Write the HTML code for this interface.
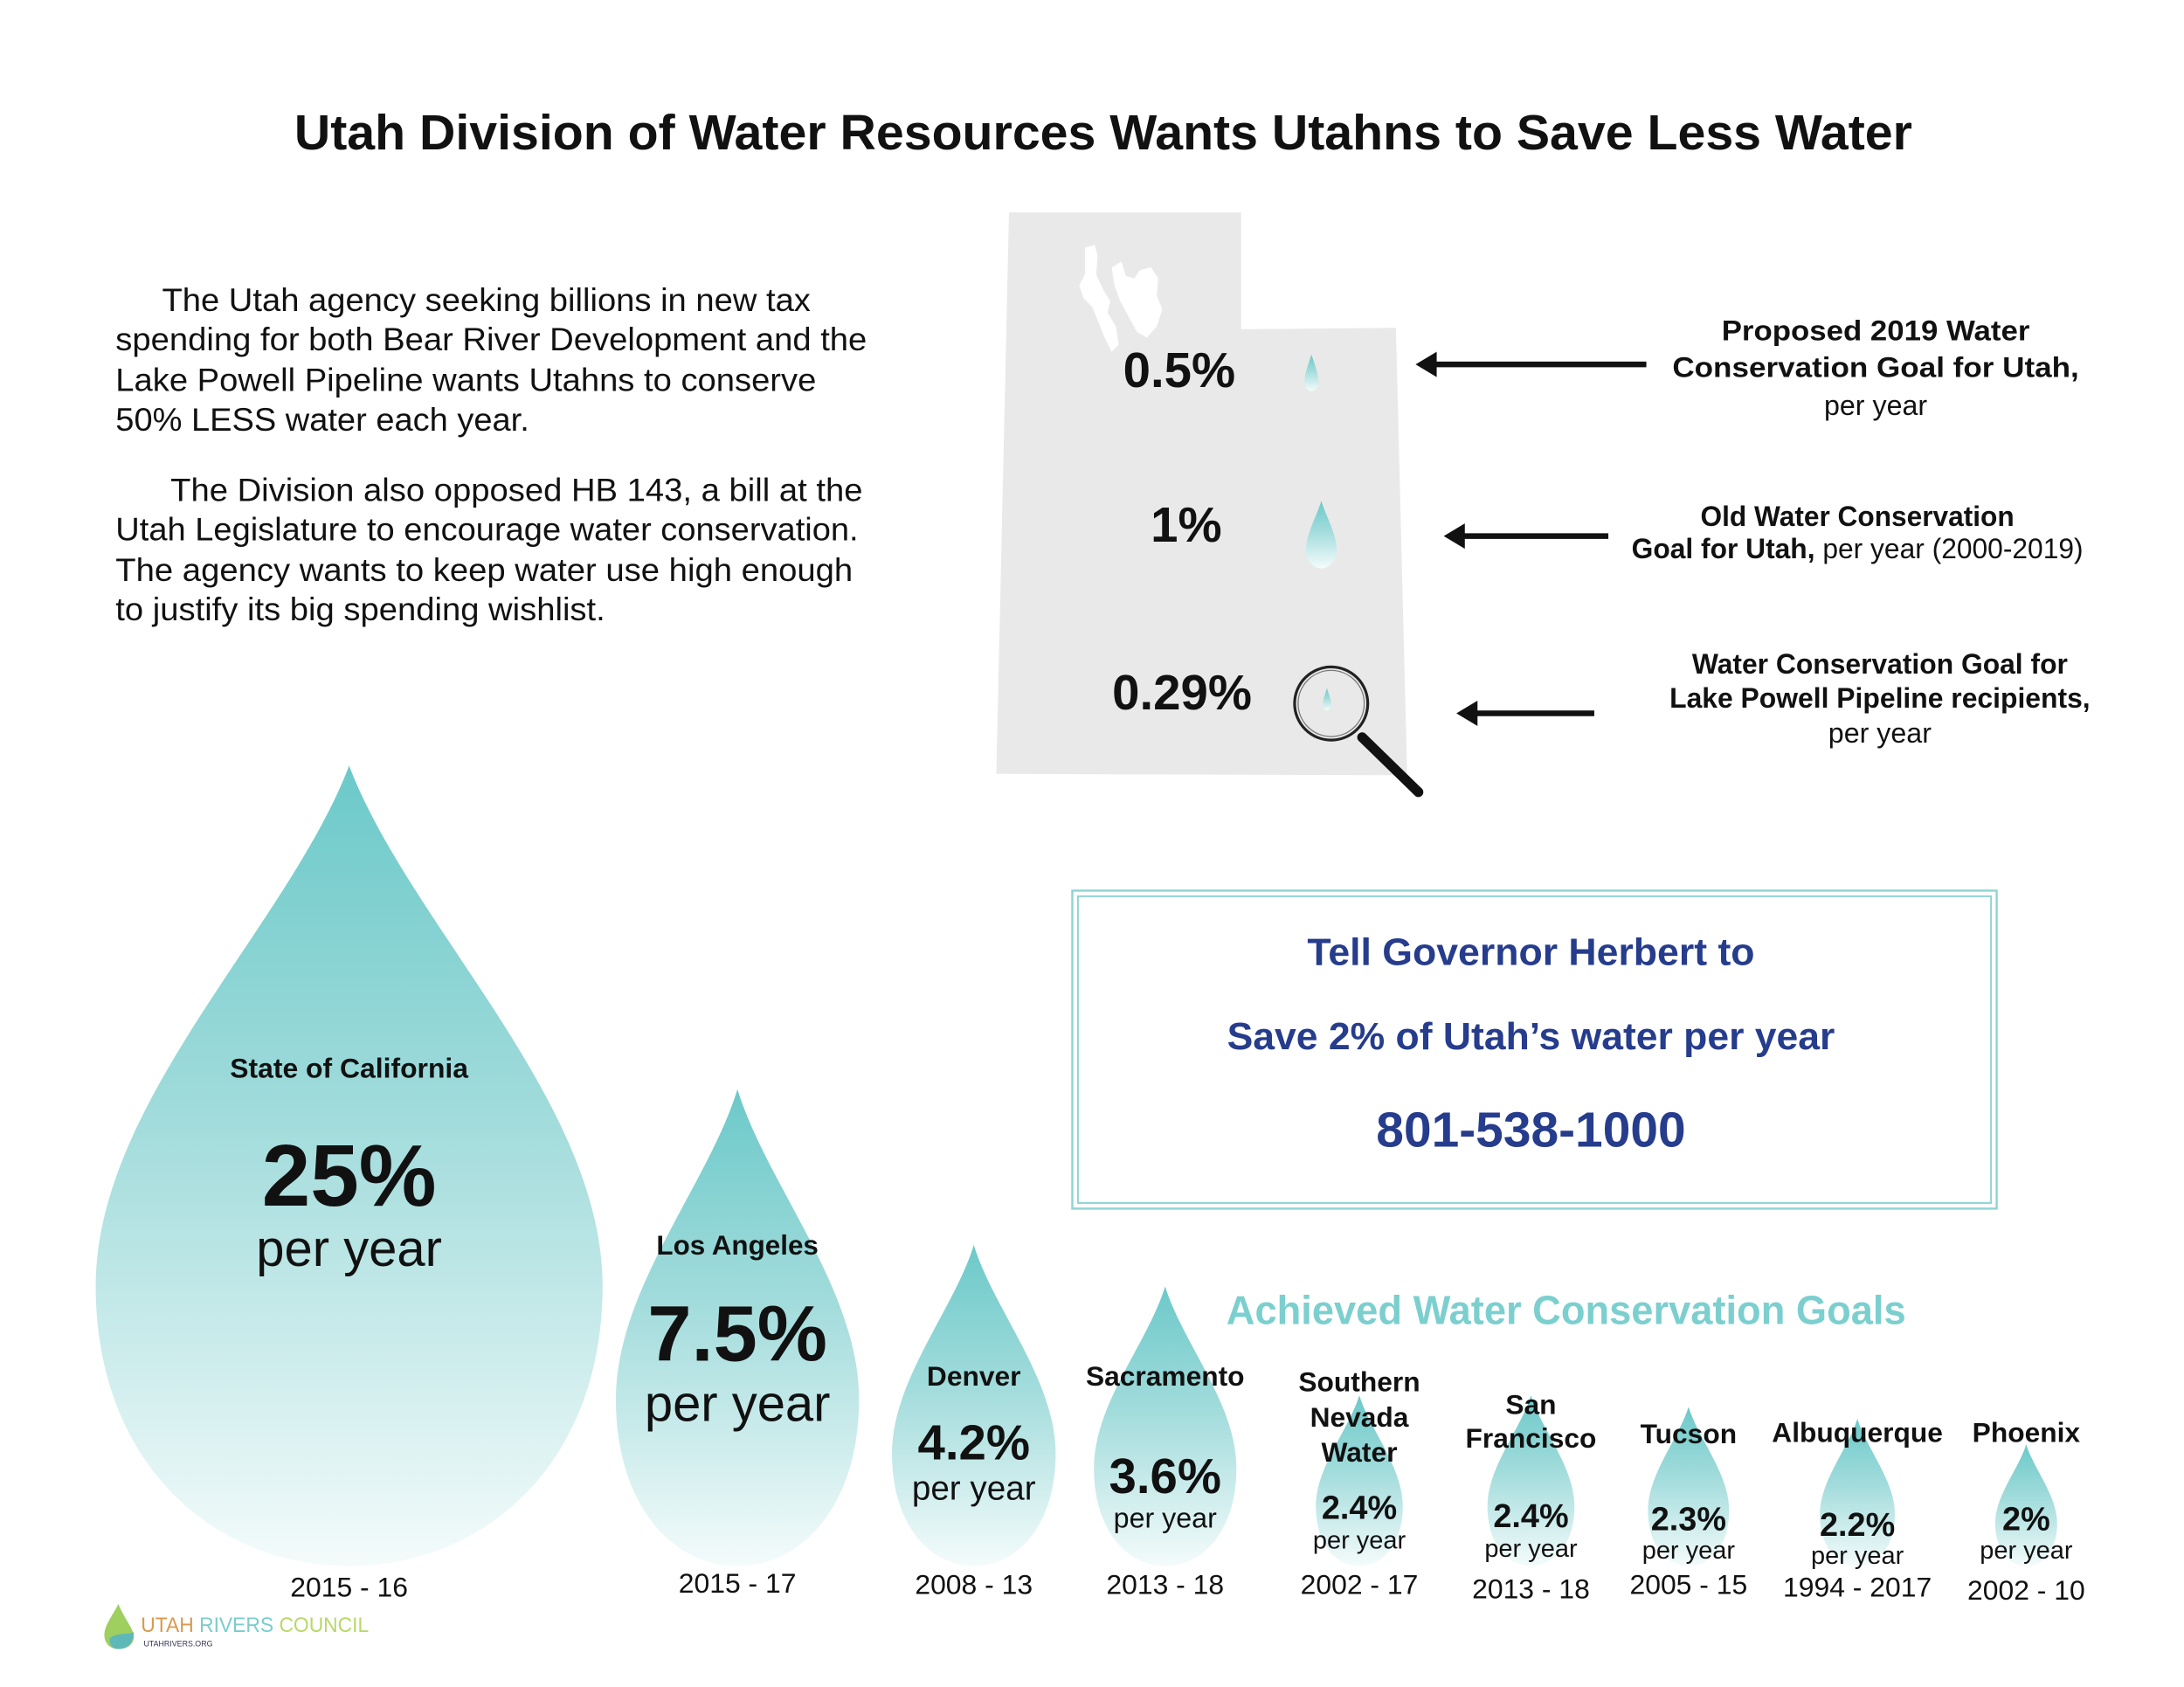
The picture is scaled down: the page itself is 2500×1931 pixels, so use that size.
<!DOCTYPE html>
<html><head><meta charset="utf-8">
<style>
html,body{margin:0;padding:0;background:#fff;}
svg{display:block;font-family:"Liberation Sans",Arial,sans-serif;}
</style></head>
<body>
<svg id="chart" width="2500" height="1931" viewBox="0 0 1552 1199" xmlns="http://www.w3.org/2000/svg">
<defs>
<linearGradient id="dropGrad" x1="0" y1="0" x2="0" y2="1">
<stop offset="0" stop-color="#6cc9c9"/>
<stop offset="0.45" stop-color="#a3dcdc"/>
<stop offset="1" stop-color="#f4fbfb"/>
</linearGradient>
</defs>
<text x="784" y="94" text-anchor="middle" dominant-baseline="central" font-size="35" font-weight="bold" fill="#111" textLength="1150" lengthAdjust="spacingAndGlyphs">Utah Division of Water Resources Wants Utahns to Save Less Water</text>

<g font-size="23" fill="#111" lengthAdjust="spacingAndGlyphs">
<text x="115" y="221" textLength="461" lengthAdjust="spacingAndGlyphs">The Utah agency seeking billions in new tax</text>
<text x="82" y="249" textLength="534" lengthAdjust="spacingAndGlyphs">spending for both Bear River Development and the</text>
<text x="82" y="278" textLength="498" lengthAdjust="spacingAndGlyphs">Lake Powell Pipeline wants Utahns to conserve</text>
<text x="82" y="306" textLength="294" lengthAdjust="spacingAndGlyphs">50% LESS water each year.</text>
<text x="121" y="356" textLength="492" lengthAdjust="spacingAndGlyphs">The Division also opposed HB 143, a bill at the</text>
<text x="82" y="384" textLength="528" lengthAdjust="spacingAndGlyphs">Utah Legislature to encourage water conservation.</text>
<text x="82" y="413" textLength="524" lengthAdjust="spacingAndGlyphs">The agency wants to keep water use high enough</text>
<text x="82" y="441" textLength="348" lengthAdjust="spacingAndGlyphs">to justify its big spending wishlist.</text>
</g>

<g>
<polygon points="717,151 882,151 882,234 992,233 1000,551 708,550" fill="#e9e9e9"/>
<path d="M771,176 L778,174 L780,182 L779,195 L784,206 L789,214 L787,222 L793,232 L795,245 L790,250 L785,240 L781,230 L776,218 L770,212 L767,203 L771,195 Z M790,190 L797,186 L800,196 L806,198 L810,192 L818,190 L823,198 L822,210 L826,220 L822,232 L815,240 L808,236 L802,225 L796,214 L792,203 Z" fill="#fff"/>
</g>
<g font-weight="bold" font-size="35" fill="#111" text-anchor="middle" dominant-baseline="central">
<text x="838" y="263">0.5%</text>
<text x="843" y="373">1%</text>
<text x="840" y="492">0.29%</text>
</g>
<path d="M932,252 C934,258 937,266 937,271 C937,276 934,278 932,278 C930,278 927,276 927,271 C927,266 930,258 932,252Z" fill="url(#dropGrad)"/>
<path d="M939,356 C942,366 950,380 950,391 C950,399 944,404 939,404 C934,404 928,399 928,391 C928,380 936,366 939,356Z" fill="url(#dropGrad)"/>
<g>
<line x1="968" y1="524" x2="1008" y2="563" stroke="#111" stroke-width="7" stroke-linecap="round"/>
<circle cx="946" cy="500" r="26" fill="none" stroke="#222" stroke-width="2"/>
<circle cx="946" cy="500" r="23.5" fill="none" stroke="#777" stroke-width="0.8"/>
<path d="M943,489 C944,493 946,497 946,500 C946,504 944,505 943,505 C942,505 940,504 940,500 C940,497 942,493 943,489Z" fill="url(#dropGrad)"/>
</g>
<g fill="#111" stroke="#111">
<line x1="1170" y1="259" x2="1018" y2="259" stroke-width="4"/>
<polygon points="1006,259 1021,250 1021,268" stroke="none"/>
<line x1="1143" y1="381" x2="1038" y2="381" stroke-width="4"/>
<polygon points="1026,381 1041,372 1041,390" stroke="none"/>
<line x1="1133" y1="507" x2="1047" y2="507" stroke-width="4"/>
<polygon points="1035,507 1050,498 1050,516" stroke="none"/>
</g>
<g font-size="20" fill="#111" text-anchor="middle" dominant-baseline="central">
<text x="1333" y="235" font-weight="bold" textLength="219" lengthAdjust="spacingAndGlyphs">Proposed 2019 Water</text>
<text x="1333" y="261" font-weight="bold" textLength="289" lengthAdjust="spacingAndGlyphs">Conservation Goal for Utah,</text>
<text x="1333" y="288">per year</text>
<text x="1320" y="367" font-weight="bold" textLength="223" lengthAdjust="spacingAndGlyphs">Old Water Conservation</text>
<text x="1320" y="390" textLength="321" lengthAdjust="spacingAndGlyphs"><tspan font-weight="bold">Goal for Utah,</tspan> per year (2000-2019)</text>
<text x="1336" y="472" font-weight="bold" textLength="267" lengthAdjust="spacingAndGlyphs">Water Conservation Goal for</text>
<text x="1336" y="496" font-weight="bold" textLength="299" lengthAdjust="spacingAndGlyphs">Lake Powell Pipeline recipients,</text>
<text x="1336" y="521">per year</text>
</g>

<g>
<rect x="762" y="633" width="657" height="226" fill="none" stroke="#8fd3d3" stroke-width="1.5"/>
<rect x="766" y="637" width="649" height="218" fill="none" stroke="#8fd3d3" stroke-width="1.2"/>
<g fill="#263c8c" font-weight="bold" text-anchor="middle" dominant-baseline="central">
<text x="1088" y="677" font-size="27" textLength="318" lengthAdjust="spacingAndGlyphs">Tell Governor Herbert to</text>
<text x="1088" y="737" font-size="27" textLength="432" lengthAdjust="spacingAndGlyphs">Save 2% of Utah’s water per year</text>
<text x="1088" y="803" font-size="35" textLength="220" lengthAdjust="spacingAndGlyphs">801-538-1000</text>
</g>
</g>
<text x="1113" y="931" text-anchor="middle" dominant-baseline="central" font-size="28.5" font-weight="bold" fill="#7ccfcf" textLength="483" lengthAdjust="spacingAndGlyphs">Achieved Water Conservation Goals</text>

<g id="drops"></g>

<g>
<path d="M84,1140 C88,1150 95,1158 95,1163 C95,1169 90,1172 84,1172 C78,1172 74,1168 74,1162 C74,1155 80,1148 84,1140Z" fill="#9fcf5f"/>
<path d="M78,1164 C84,1160 90,1162 95,1160 C95,1168 90,1172 84,1172 C80,1172 77,1169 78,1164Z" fill="#5fb8b8"/>
<text x="100" y="1160" font-size="15" fill="#d99a4e" textLength="162" lengthAdjust="spacingAndGlyphs">UTAH <tspan fill="#7ccccc">RIVERS</tspan> <tspan fill="#b8d86a">COUNCIL</tspan></text>
<text x="102" y="1170" font-size="5.5" fill="#335">UTAHRIVERS.ORG</text>
</g>
</svg>
<script>
const cities = ["State of California","Los Angeles","Denver","Sacramento","Southern Nevada Water","San Francisco","Tucson","Albuquerque","Phoenix"];
const rates = [25, 7.5, 4.2, 3.6, 2.4, 2.4, 2.3, 2.2, 2];
const periods = ["2015 - 16","2015 - 17","2008 - 13","2013 - 18","2002 - 17","2013 - 18","2005 - 15","1994 - 2017","2002 - 10"];
const nameLines = [["State of California"],["Los Angeles"],["Denver"],["Sacramento"],["Southern","Nevada","Water"],["San","Francisco"],["Tucson"],["Albuquerque"],["Phoenix"]];

const NS="http://www.w3.org/2000/svg";
const g=document.getElementById('drops');
const centers=[248,524,692,828,966,1088,1200,1320,1440];
const baseY=1113;
function hScale(v){return -46+191*Math.log(v);}
function wScale(h){const e=Math.max(0,h-340);return 0.51*h+0.00134*e*e;}
function mk(tag,attrs){const e=document.createElementNS(NS,tag);for(const k in attrs)e.setAttribute(k,attrs[k]);return e;}
const lay=[
 {name:-354,val:-277,per:-225,vs:62,ps:36,ns:19.8,yr:15},
 {name:-228,val:-165,per:-115,vs:56,ps:36,ns:19.5,yr:12},
 {name:-135,val:-88,per:-55,vs:35,ps:24,ns:19.7,yr:13},
 {name:-135,val:-64,per:-34,vs:35,ps:20,ns:19.7,yr:13},
 {name:-131,val:-41,per:-18,vs:23.5,ps:18,ns:19.7,yr:13,lh:25},
 {name:-115,val:-35,per:-12,vs:23.5,ps:18,ns:19.7,yr:16,lh:24},
 {name:-94,val:-33,per:-11,vs:23.5,ps:18,ns:19.7,yr:13},
 {name:-95,val:-29,per:-7,vs:23.5,ps:18,ns:19.7,yr:15},
 {name:-95,val:-33,per:-11,vs:23.5,ps:18,ns:19.7,yr:17}
];
rates.forEach((v,i)=>{
  const cx=centers[i], h=hScale(v), w=wScale(h), top=baseY-h, b=baseY;
  const d=`M${cx},${top} C${cx+w*0.12},${top+h*0.2} ${cx+w/2},${top+h*0.42} ${cx+w/2},${top+h*0.65} C${cx+w/2},${top+h*0.87} ${cx+w*0.27},${b} ${cx},${b} C${cx-w*0.27},${b} ${cx-w/2},${top+h*0.87} ${cx-w/2},${top+h*0.65} C${cx-w/2},${top+h*0.42} ${cx-w*0.12},${top+h*0.2} ${cx},${top} Z`;
  const p=mk('path',{d:d,fill:'url(#dropGrad)'});
  
  
  g.appendChild(p);
  const L=lay[i];
  nameLines[i].forEach((ln,j)=>{
    const t=mk('text',{x:cx,y:b+L.name+j*(L.lh||24),'text-anchor':'middle','dominant-baseline':'central','font-size':L.ns,'font-weight':'bold',fill:'#111'});
    t.textContent=ln;
    
    
    g.appendChild(t);
  });
  const tv=mk('text',{x:cx,y:b+L.val,'text-anchor':'middle','dominant-baseline':'central','font-size':L.vs,'font-weight':'bold',fill:'#111'});
  tv.textContent=v+'%';
  
  
  g.appendChild(tv);
  const tp=mk('text',{x:cx,y:b+L.per,'text-anchor':'middle','dominant-baseline':'central','font-size':L.ps,fill:'#111'});
  tp.textContent='per year';
  
  
  g.appendChild(tp);
  const ty=mk('text',{x:cx,y:b+L.yr,'text-anchor':'middle','dominant-baseline':'central','font-size':19.8,fill:'#111'});
  ty.textContent=periods[i];
  
  
  g.appendChild(ty);
});
</script>
</body></html>
